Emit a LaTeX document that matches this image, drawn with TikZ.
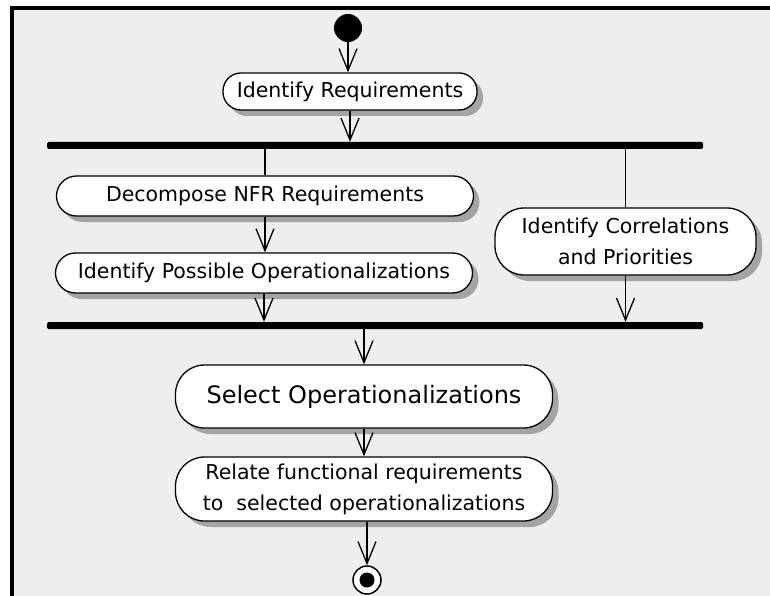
\documentclass[tikz,border=0pt]{standalone}
\usepackage{fontspec}
\setmainfont{DejaVu Sans}
\usetikzlibrary{arrows.meta,shadows}
\definecolor{canvas}{HTML}{EEEEEE}
\definecolor{shade}{HTML}{A4A4A4}
\begin{document}
\begin{tikzpicture}[x=1pt,y=-1pt,
  act/.style={draw=black, line width=1.3pt, fill=white, align=center, inner sep=0pt,
    font=\fontsize{20.5}{31}\selectfont,
    drop shadow={shadow xshift=6pt, shadow yshift=-6pt, fill=shade, opacity=1}},
  flow/.style={line width=1.6pt, -{Straight Barb[length=22pt,width=18pt,line width=1.3pt]}},
  link/.style={line width=1.6pt},
  syncbar/.style={fill=black, inner sep=0pt, minimum width=656pt, minimum height=7pt, rounded corners=1.5pt},
  startdot/.style={circle, fill=black, inner sep=0pt, minimum size=28pt},
]
% frame and canvas
\useasboundingbox (0,0) rectangle (770,596);
\fill[white] (0,0) rectangle (770,596);
\fill[black] (10,6) rectangle (770,596);
\fill[canvas] (14,10) rectangle (770,596);

% activities
\node[startdot] (start) at (348,28) {};
\node[act, rounded corners=18pt, minimum width=254pt, minimum height=37pt] (ir) at (350,91.5) {Identify Requirements};
\node[syncbar] (bar1) at (375,145.5) {};
\node[act, rounded corners=20pt, minimum width=417pt, minimum height=40pt] (dec) at (265,196) {Decompose NFR Requirements};
\node[act, rounded corners=20pt, minimum width=417pt, minimum height=40pt] (ipo) at (264,273) {Identify Possible Operationalizations};
\node[act, rounded corners=29pt, minimum width=261pt, minimum height=67pt] (corr) at (625.5,241.5) {Identify Correlations\\and Priorities};
\node[syncbar] (bar2) at (375,325.5) {};
\node[act, rounded corners=29pt, minimum width=377pt, minimum height=63pt, font=\fontsize{24}{30}\selectfont] (sel) at (364,396.5) {Select Operationalizations};
\node[act, rounded corners=29pt, minimum width=377pt, minimum height=64pt] (rel) at (364,489) {Relate functional requirements\\to\ \ selected operationalizations};
\node[circle, draw=black, line width=1.5pt, fill=white, inner sep=0pt, minimum size=28pt] (end) at (367,580) {};
\node[startdot, minimum size=15pt] (endcore) at (end) {};

% transitions
\draw[flow] (start) -- (start |- ir.north);
\draw[flow] (ir.south) -- (ir.south |- bar1.north);
\draw[link] (bar1.south -| dec) -- (dec.north);
\draw[flow] (dec.south) -- (dec.south |- ipo.north);
\draw[flow] (ipo.south) -- (ipo.south |- bar2.north);
\draw[link] (bar1.south -| corr) -- (corr.north);
\draw[flow] (corr.south) -- (corr.south |- bar2.north);
\draw[flow] (bar2.south -| sel) -- (sel.north);
\draw[flow] (sel.south) -- (rel.north);
\draw[flow] (rel.south -| end) -- (end.north);
\end{tikzpicture}
\end{document}
